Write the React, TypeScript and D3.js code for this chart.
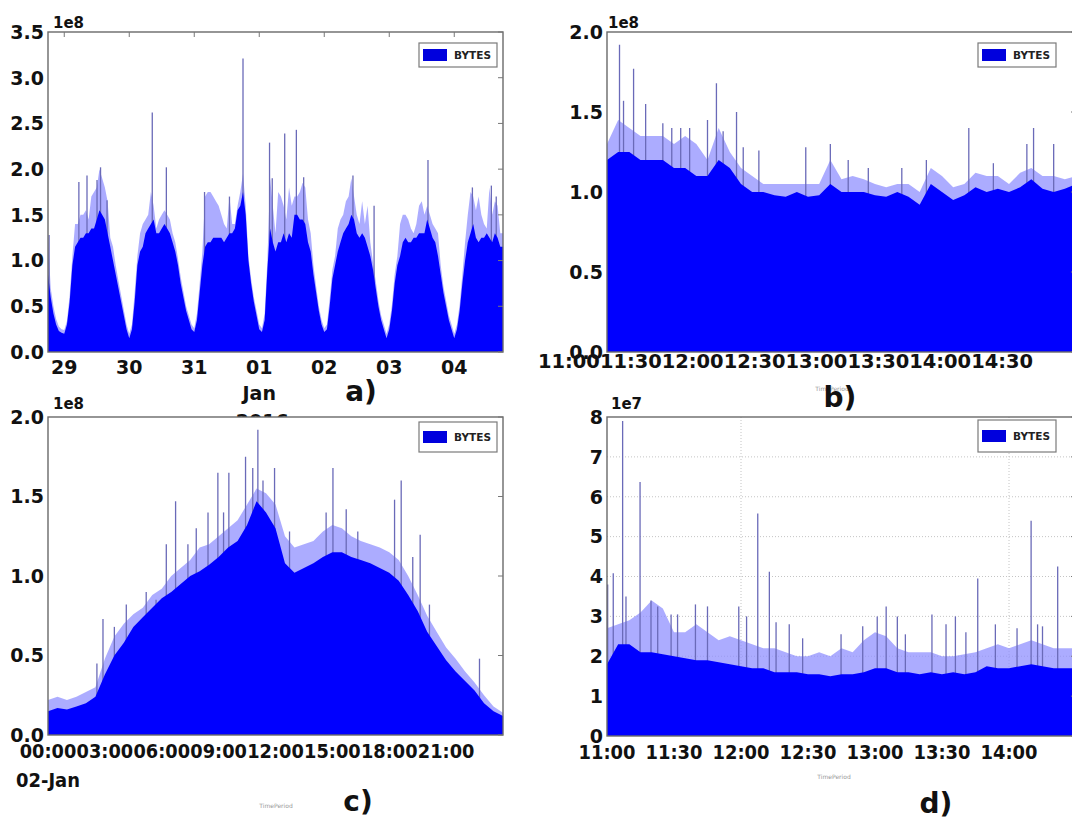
import React from 'react';
import * as d3 from 'd3';

// ---------- Panel a : one week, hourly (x 1e8 bytes) ----------
const A_START = new Date(2015, 11, 28, 18, 0);
const A_END = new Date(2016, 0, 4, 18, 0);
const A_TICKS = [new Date(2015, 11, 29), new Date(2015, 11, 30), new Date(2015, 11, 31), new Date(2016, 0, 1), new Date(2016, 0, 2), new Date(2016, 0, 3), new Date(2016, 0, 4)];
const A_TICK_LABELS = ['29', '30', '31', '01', '02', '03', '04'];
const A_BODY = [
  0.85, 0.6, 0.42, 0.3, 0.23, 0.21, 0.2, 0.3, 0.55, 0.95,
  1.15, 1.2, 1.25, 1.25, 1.3, 1.3, 1.35, 1.35, 1.45, 1.55,
  1.5, 1.45, 1.3, 1.15, 1.0, 0.85, 0.7, 0.55, 0.4, 0.25,
  0.15, 0.25, 0.55, 0.95, 1.1, 1.15, 1.3, 1.35, 1.4, 1.45,
  1.3, 1.3, 1.35, 1.4, 1.35, 1.3, 1.2, 1.1, 0.95, 0.75,
  0.6, 0.45, 0.35, 0.25, 0.22, 0.35, 0.65, 0.95, 1.15, 1.2,
  1.2, 1.25, 1.25, 1.25, 1.25, 1.2, 1.25, 1.3, 1.3, 1.35,
  1.55, 1.6, 1.75, 1.5, 1.0, 0.75, 0.55, 0.4, 0.25, 0.22,
  0.35, 0.9, 1.35, 1.2, 1.1, 1.2, 1.2, 1.3, 1.2, 1.3,
  1.25, 1.5, 1.5, 1.45, 1.45, 1.4, 1.2, 1.1, 0.85, 0.65,
  0.45, 0.3, 0.22, 0.25, 0.5, 0.8, 0.95, 1.1, 1.2, 1.3,
  1.35, 1.4, 1.5, 1.45, 1.3, 1.25, 1.3, 1.25, 1.15, 1.05,
  0.9, 0.7, 0.5, 0.35, 0.25, 0.15, 0.25, 0.45, 0.75, 0.95,
  1.05, 1.2, 1.25, 1.2, 1.2, 1.25, 1.25, 1.3, 1.3, 1.3,
  1.45, 1.35, 1.25, 1.2, 1.05, 0.85, 0.65, 0.5, 0.35, 0.25,
  0.15, 0.25, 0.45, 0.75, 1.0, 1.2, 1.3, 1.4, 1.25, 1.2,
  1.25, 1.25, 1.3, 1.25, 1.2, 1.3, 1.25, 1.15, 1.15,
];
const A_TOP = [
  1.25, 0.7, 0.5, 0.36, 0.28, 0.25, 0.24, 0.34, 0.62, 1.05,
  1.4, 1.4, 1.5, 1.5, 1.55, 1.45, 1.7, 1.75, 1.8, 2.0,
  1.9, 1.8, 1.65, 1.25, 1.15, 0.95, 0.78, 0.62, 0.46, 0.3,
  0.2, 0.3, 0.65, 1.05, 1.3, 1.4, 1.45, 1.5, 1.75, 1.6,
  1.35, 1.45, 1.5, 1.55, 1.5, 1.45, 1.3, 1.2, 1.02, 0.82,
  0.66, 0.5, 0.4, 0.3, 0.26, 0.42, 0.75, 1.1, 1.7, 1.75,
  1.75, 1.7, 1.65, 1.6, 1.5, 1.4, 1.35, 1.7, 1.4, 1.4,
  1.6, 1.75, 1.95, 1.6, 1.05, 0.8, 0.6, 0.45, 0.3, 0.26,
  0.42, 1.0, 1.9, 1.6, 1.3, 1.75, 1.7, 1.6, 1.45, 1.8,
  1.6, 1.7, 1.7, 1.75, 1.85, 1.8, 1.45, 1.3, 0.95, 0.72,
  0.5, 0.35, 0.26, 0.3, 0.58, 0.9, 1.05, 1.35, 1.45, 1.5,
  1.65, 1.7, 1.9, 1.7, 1.5, 1.4, 1.65, 1.4, 1.6, 1.2,
  0.98, 0.78, 0.56, 0.4, 0.3, 0.2, 0.3, 0.52, 0.85, 1.05,
  1.4, 1.5, 1.5, 1.45, 1.35, 1.3, 1.4, 1.6, 1.65, 1.5,
  1.6, 1.5, 1.4, 1.35, 1.3, 0.95, 0.72, 0.56, 0.4, 0.3,
  0.2, 0.3, 0.52, 0.85, 1.2, 1.5, 1.75, 1.7, 1.55, 1.7,
  1.5, 1.4, 1.35, 1.8, 1.5, 1.65, 1.6, 1.3, 1.3,
];
// [hours after A_START, value]
const A_SPIKES: [number, number][] = [
  [0.4, 1.28], [11.4, 1.86], [14.4, 1.93], [18.1, 1.88], [19.4, 2.02], [21.8, 1.66],
  [38.5, 2.62], [43.7, 2.02], [57.8, 1.75], [67, 1.7], [72, 3.21], [81.8, 2.29],
  [82.8, 1.9], [87.4, 2.39], [91.7, 2.43], [94.4, 1.91], [112.6, 1.93], [120.4, 1.6],
  [140.3, 2.1], [156.7, 1.8], [163.7, 1.82], [165.5, 1.7],
];

// ---------- Panel b : 5-minute samples from 11:00 (x 1e8) ----------
const B_TICK_LABELS = ['11:00', '11:30', '12:00', '12:30', '13:00', '13:30', '14:00', '14:30'];
const B_BODY = [
  1.2, 1.25, 1.25, 1.2, 1.2, 1.2, 1.15, 1.15, 1.1, 1.1,
  1.2, 1.15, 1.05, 1.0, 1.0, 0.98, 0.97, 1.0, 0.97, 0.98,
  1.05, 1.0, 1.0, 1.0, 0.98, 0.97, 1.0, 0.97, 0.92, 1.05,
  1.0, 0.95, 0.98, 1.03, 1.0, 1.02, 1.0, 1.03, 1.08, 1.02,
  1.0, 1.02, 1.05,
];
const B_TOP = [
  1.3, 1.45, 1.4, 1.35, 1.35, 1.35, 1.3, 1.35, 1.3, 1.2,
  1.4, 1.25, 1.15, 1.1, 1.05, 1.05, 1.05, 1.05, 1.05, 1.05,
  1.2, 1.08, 1.1, 1.08, 1.05, 1.03, 1.05, 1.05, 1.0, 1.15,
  1.1, 1.03, 1.05, 1.12, 1.1, 1.1, 1.05, 1.12, 1.15, 1.1,
  1.1, 1.08, 1.1,
];
// [minutes after 11:00, value]
const B_SPIKES: [number, number][] = [
  [5.6, 1.92], [7.4, 1.57], [11.9, 1.77], [17.3, 1.55], [25, 1.43], [29, 1.4], [33, 1.4],
  [37, 1.4], [45, 1.45], [49, 1.68], [52, 1.38], [58, 1.5], [61, 1.28], [68, 1.26],
  [89, 1.28], [100, 1.3], [108, 1.2], [117, 1.15], [132, 1.15], [143, 1.2], [162, 1.4],
  [173, 1.18], [188, 1.3], [191, 1.4], [200, 1.3],
];

// ---------- Panel c : 02-Jan, half-hourly (x 1e8) ----------
const C_TICK_LABELS = ['00:00', '03:00', '06:00', '09:00', '12:00', '15:00', '18:00', '21:00'];
const C_BODY = [
  0.15, 0.17, 0.16, 0.18, 0.2, 0.24, 0.38, 0.5, 0.58, 0.68,
  0.74, 0.8, 0.86, 0.9, 0.95, 1.0, 1.03, 1.07, 1.12, 1.18,
  1.22, 1.32, 1.47, 1.4, 1.3, 1.08, 1.02, 1.05, 1.08, 1.12,
  1.15, 1.15, 1.12, 1.1, 1.08, 1.05, 1.02, 0.97, 0.88, 0.78,
  0.65, 0.56, 0.47, 0.4, 0.34, 0.28, 0.2, 0.15, 0.12,
];
const C_TOP = [
  0.22, 0.24, 0.22, 0.24, 0.27, 0.3, 0.48, 0.62, 0.7, 0.76,
  0.8, 0.88, 0.92, 1.0, 1.05, 1.1, 1.18, 1.2, 1.25, 1.3,
  1.35, 1.45, 1.55, 1.52, 1.45, 1.25, 1.18, 1.2, 1.22, 1.28,
  1.32, 1.3, 1.25, 1.22, 1.2, 1.18, 1.15, 1.1, 1.0, 0.88,
  0.75, 0.65, 0.55, 0.48, 0.4, 0.33, 0.25, 0.18, 0.14,
];
// [hours after 00:00, value]
const C_SPIKES: [number, number][] = [
  [2.58, 0.45], [2.9, 0.73], [3.5, 0.68], [4.13, 0.82], [5.18, 0.9], [5.7, 0.85],
  [6.24, 1.2], [6.73, 1.47], [7.38, 1.2], [7.82, 1.3], [8.44, 1.4], [8.96, 1.65],
  [9.26, 1.4], [9.54, 1.65], [10.42, 1.75], [10.8, 1.68], [11.07, 1.92], [11.34, 1.6],
  [11.95, 1.68], [12.74, 1.28], [14.67, 1.4], [15.03, 1.68], [15.73, 1.42], [16.34, 1.28],
  [18.28, 1.48], [18.63, 1.6], [19.24, 1.12], [19.63, 1.26], [20.12, 0.82], [22.76, 0.48],
];

// ---------- Panel d : 5-minute samples from 11:00 (x 1e7) ----------
const D_TICK_LABELS = ['11:00', '11:30', '12:00', '12:30', '13:00', '13:30', '14:00'];
const D_GRID_HOURS = [12, 14];
const D_BODY = [
  1.8, 2.3, 2.3, 2.1, 2.1, 2.05, 2.0, 1.95, 1.9, 1.9,
  1.85, 1.8, 1.75, 1.7, 1.7, 1.6, 1.6, 1.6, 1.55, 1.55,
  1.5, 1.55, 1.55, 1.6, 1.7, 1.7, 1.6, 1.6, 1.55, 1.6,
  1.55, 1.6, 1.55, 1.6, 1.75, 1.7, 1.7, 1.75, 1.8, 1.75,
  1.7, 1.7, 1.7,
];
const D_TOP = [
  2.7, 2.8, 2.9, 3.1, 3.4, 3.2, 2.6, 2.6, 2.8, 2.6,
  2.4, 2.5, 2.4, 2.3, 2.2, 2.2, 2.1, 2.0, 2.0, 2.1,
  2.0, 2.2, 2.1, 2.4, 2.6, 2.5, 2.2, 2.1, 2.1, 2.1,
  2.0, 2.0, 2.05, 2.1, 2.2, 2.3, 2.2, 2.3, 2.4, 2.3,
  2.2, 2.2, 2.2,
];
// [minutes after 11:00, value]
const D_SPIKES: [number, number][] = [
  [0.3, 3.8], [2.8, 4.08], [7, 7.9], [8.5, 3.5], [14.8, 6.37], [19.7, 3.4], [22.7, 3.25],
  [28.7, 3.05], [31.6, 3.05], [39.6, 3.3], [45, 3.25], [59, 3.25], [62.5, 3.0],
  [67.5, 5.58], [72.7, 4.12], [75.7, 2.85], [81.6, 2.8], [87.6, 2.45], [104.8, 2.55],
  [114.5, 2.75], [121, 3.0], [125, 3.25], [130, 3.0], [133.6, 2.55], [145.5, 3.05],
  [151.8, 2.8], [156, 3.0], [160.7, 2.6], [166, 3.95], [173.9, 2.8], [183.6, 2.7],
  [189.9, 5.4], [192.8, 2.8], [195, 2.75], [201.8, 4.25],
];

const FONT = '"DejaVu Sans", sans-serif';
const BLUE = '#0000ff';
const FRINGE = '#8c8cff';
const SPIKE = '#6a6ab8';

type Row = { x: any; body: number; top: number };

function Series({ id, x, y, rows, spikes, bottom }: any) {
  const areaBody = d3.area<Row>().x((d) => x(d.x)).y0(bottom).y1((d) => y(d.body));
  const areaTop = d3.area<Row>().x((d) => x(d.x)).y0(bottom).y1((d) => y(d.top));
  return (
    <g clipPath={`url(#clip-${id})`}>
      <path d={areaTop(rows) || ''} fill={FRINGE} opacity={0.72} />
      {spikes.map((s: any, i: number) => (
        <line key={i} x1={x(s.x)} x2={x(s.x)} y1={bottom} y2={y(s.v)} stroke={SPIKE} strokeWidth={1.3} />
      ))}
      <path d={areaBody(rows) || ''} fill={BLUE} />
    </g>
  );
}

function Frame({ id, left, right, top, bottom, y, yTicks, yFmt, labelX, children, gridY }: any) {
  return (
    <g>
      <defs>
        <clipPath id={`clip-${id}`}>
          <rect x={left} y={top} width={right - left} height={bottom - top} />
        </clipPath>
      </defs>
      <rect x={left} y={top} width={right - left} height={bottom - top} fill="#fff" />
      {gridY && yTicks.slice(1, -1).map((t: number) => (
        <line key={t} x1={left} x2={right} y1={y(t)} y2={y(t)} stroke="#c4c4c4" strokeDasharray="1,2" />
      ))}
      {children}
      <rect x={left} y={top} width={right - left} height={bottom - top} fill="none" stroke="#6a6a6a" strokeWidth={1.4} />
      {yTicks.map((t: number) => (
        <g key={t}>
          <line x1={right - 5} x2={right} y1={y(t)} y2={y(t)} stroke="#777" />
          <text x={labelX} y={y(t)} dy="0.36em" textAnchor="end" fontFamily={FONT} fontWeight="bold" fontSize={19} fill="#111">
            {yFmt(t)}
          </text>
        </g>
      ))}
    </g>
  );
}

function Legend({ x, y, h }: any) {
  return (
    <g>
      <rect x={x} y={y} width={78} height={h} fill="#fff" stroke="#7a7a7a" strokeWidth={1.2} />
      <rect x={x + 4} y={y + h / 2 - 6} width={24} height={12} fill="#0000dd" />
      <text x={x + 35} y={y + h / 2} dy="0.36em" fontFamily={FONT} fontWeight="bold" fontSize={10} textLength={37} lengthAdjust="spacingAndGlyphs" fill="#222">
        BYTES
      </text>
    </g>
  );
}

export default function App() {
  // ----- a -----
  const aL = 48, aR = 503, aT = 32, aB = 352;
  const ax = d3.scaleTime().domain([A_START, A_END]).range([aL, aR]);
  const ay = d3.scaleLinear().domain([0, 3.5]).range([aB, aT]);
  const aRows: Row[] = A_BODY.map((v, i) => ({ x: d3.timeHour.offset(A_START, i), body: v, top: A_TOP[i] }));
  const aSp = A_SPIKES.map(([h, v]) => ({ x: new Date(+A_START + h * 3600e3), v }));

  // ----- b -----
  const bL = 607, bR = 1076, bT = 32, bB = 352;
  const bx = d3.scaleLinear().domain([0, 210]).range([bL, bR]);
  const by = d3.scaleLinear().domain([0, 2]).range([bB, bT]);
  const bRows: Row[] = B_BODY.map((v, i) => ({ x: i * 5, body: v, top: B_TOP[i] }));
  const bSp = B_SPIKES.map(([m, v]) => ({ x: m, v }));
  const bLab = d3.scaleBand().domain(B_TICK_LABELS).range([538, 1033]);

  // ----- c -----
  const cL = 48, cR = 503, cT = 417, cB = 735;
  const C_START = new Date(2016, 0, 2, 0, 0);
  const cx = d3.scaleTime().domain([C_START, new Date(2016, 0, 3, 0, 0)]).range([cL, cR]);
  const cy = d3.scaleLinear().domain([0, 2]).range([cB, cT]);
  const cRows: Row[] = C_BODY.map((v, i) => ({ x: d3.timeMinute.offset(C_START, i * 30), body: v, top: C_TOP[i] }));
  const cSp = C_SPIKES.map(([h, v]) => ({ x: new Date(+C_START + h * 3600e3), v }));

  // ----- d -----
  const dL = 607, dR = 1076, dT = 417, dB = 736;
  const D_START = new Date(2016, 0, 4, 11, 0);
  const dx = d3.scaleTime().domain([D_START, new Date(2016, 0, 4, 14, 30)]).range([dL, dR]);
  const dy = d3.scaleLinear().domain([0, 8]).range([dB, dT]);
  const dRows: Row[] = D_BODY.map((v, i) => ({ x: d3.timeMinute.offset(D_START, i * 5), body: v, top: D_TOP[i] }));
  const dSp = D_SPIKES.map(([m, v]) => ({ x: new Date(+D_START + m * 60e3), v }));

  const f1 = (t: number) => t.toFixed(1);
  const f0 = (t: number) => String(t);

  return (
    <svg width={1072} height={819} style={{ position: 'absolute', left: 0, top: 0, background: '#fff' }}>
      <defs>
        <clipPath id="clip-blabel">
          <rect x={780} y={370} width={120} height={41} />
        </clipPath>
      </defs>
      <rect x={0} y={0} width={1072} height={819} fill="#fff" />

      {/* ===== a ===== */}
      <Frame id="a" left={aL} right={aR} top={aT} bottom={aB} y={ay} yTicks={d3.range(0, 3.51, 0.5)} yFmt={f1} labelX={44}>
        <Series id="a" x={ax} y={ay} rows={aRows} spikes={aSp} bottom={aB} />
      </Frame>
      {A_TICKS.map((t, i) => (
        <g key={i}>
          <line x1={ax(t)} x2={ax(t)} y1={aT} y2={aT + 5} stroke="#777" />
          <text x={ax(t)} y={374} textAnchor="middle" fontFamily={FONT} fontWeight="bold" fontSize={19} fill="#111">{A_TICK_LABELS[i]}</text>
        </g>
      ))}
      <text x={ax(A_TICKS[3])} y={400} textAnchor="middle" fontFamily={FONT} fontWeight="bold" fontSize={19} fill="#111">Jan</text>
      <text x={ax(A_TICKS[3]) + 3} y={428} textAnchor="middle" fontFamily={FONT} fontWeight="bold" fontSize={19} fill="#111">2016</text>
      <text x={53} y={28} fontFamily={FONT} fontWeight="bold" fontSize={15} fill="#111">1e8</text>
      <Legend x={419} y={43} h={24} />
      <text x={361} y={401} textAnchor="middle" fontFamily={FONT} fontWeight="bold" fontSize={28} fill="#111">a)</text>

      {/* ===== b ===== */}
      <Frame id="b" left={bL} right={bR} top={bT} bottom={bB} y={by} yTicks={d3.range(0, 2.01, 0.5)} yFmt={f1} labelX={603}>
        <Series id="b" x={bx} y={by} rows={bRows} spikes={bSp} bottom={bB} />
      </Frame>
      {B_TICK_LABELS.map((l) => (
        <text key={l} x={(bLab(l) as number)} y={368} fontFamily={FONT} fontWeight="bold" fontSize={19} textLength={bLab.bandwidth()} lengthAdjust="spacingAndGlyphs" fill="#111">{l}</text>
      ))}
      <text x={608} y={28} fontFamily={FONT} fontWeight="bold" fontSize={15} fill="#111">1e8</text>
      <Legend x={978} y={43} h={24} />
      <text x={832} y={391} textAnchor="middle" fontFamily={FONT} fontSize={6} fill="#999">TimePeriod</text>
      <text x={840} y={407} textAnchor="middle" fontFamily={FONT} fontWeight="bold" fontSize={28} fill="#111" clipPath="url(#clip-blabel)">b)</text>

      {/* ===== c ===== */}
      <Frame id="c" left={cL} right={cR} top={cT} bottom={cB} y={cy} yTicks={d3.range(0, 2.01, 0.5)} yFmt={f1} labelX={44}>
        <Series id="c" x={cx} y={cy} rows={cRows} spikes={cSp} bottom={cB} />
      </Frame>
      {C_TICK_LABELS.map((l, i) => {
        const cxp = cx(d3.timeHour.offset(C_START, i * 3));
        return (
          <text key={l} x={cxp - 28.3} y={758} fontFamily={FONT} fontWeight="bold" fontSize={20} textLength={56.6} lengthAdjust="spacingAndGlyphs" fill="#111">{l}</text>
        );
      })}
      <text x={16} y={787} fontFamily={FONT} fontWeight="bold" fontSize={20} textLength={64} lengthAdjust="spacingAndGlyphs" fill="#111">02-Jan</text>
      <text x={53} y={409} fontFamily={FONT} fontWeight="bold" fontSize={15} fill="#111">1e8</text>
      <Legend x={419} y={422} h={30} />
      <text x={276} y={808} textAnchor="middle" fontFamily={FONT} fontSize={6} fill="#999">TimePeriod</text>
      <text x={358} y={811} textAnchor="middle" fontFamily={FONT} fontWeight="bold" fontSize={28} fill="#111">c)</text>

      {/* ===== d ===== */}
      <Frame id="d" left={dL} right={dR} top={dT} bottom={dB} y={dy} yTicks={d3.range(0, 9, 1)} yFmt={f0} labelX={603} gridY>
        {D_GRID_HOURS.map((h) => {
          const gx = dx(new Date(2016, 0, 4, h, 0));
          return <line key={h} x1={gx} x2={gx} y1={dT} y2={dB} stroke="#c4c4c4" strokeDasharray="1,2" />;
        })}
        <Series id="d" x={dx} y={dy} rows={dRows} spikes={dSp} bottom={dB} />
      </Frame>
      {D_TICK_LABELS.map((l, i) => (
        <text key={l} x={dx(d3.timeMinute.offset(D_START, i * 30))} y={759} textAnchor="middle" fontFamily={FONT} fontWeight="bold" fontSize={20} textLength={57} lengthAdjust="spacingAndGlyphs" fill="#111">{l}</text>
      ))}
      <text x={611} y={409} fontFamily={FONT} fontWeight="bold" fontSize={15} fill="#111">1e7</text>
      <Legend x={978} y={420} h={32} />
      <text x={834} y={779} textAnchor="middle" fontFamily={FONT} fontSize={6} fill="#999">TimePeriod</text>
      <text x={936} y={813} textAnchor="middle" fontFamily={FONT} fontWeight="bold" fontSize={28} fill="#111">d)</text>
    </svg>
  );
}
